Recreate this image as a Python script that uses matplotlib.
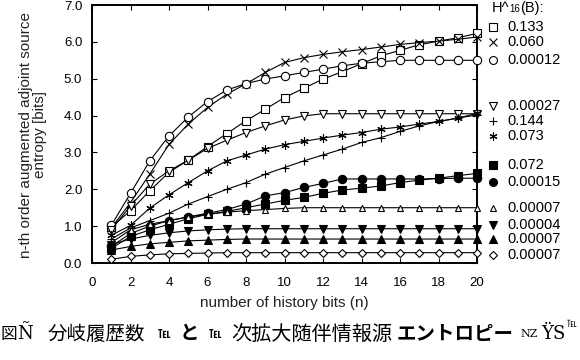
import matplotlib
matplotlib.use("Agg")
import matplotlib.pyplot as plt
from matplotlib.lines import Line2D

n = list(range(1, 21))

labels = ["0.133", "0.060", "0.00012", "0.00027", "0.144", "0.073",
          "0.072", "0.00015", "0.00007", "0.00004", "0.00007", "0.00007"]

s_square = [0.97, 1.42, 1.96, 2.46, 2.79, 3.16, 3.51, 3.86, 4.17, 4.49,
            4.74, 4.99, 5.19, 5.41, 5.62, 5.77, 5.92, 6.02, 6.11, 6.23]
s_x = [0.95, 1.64, 2.41, 3.22, 3.77, 4.22, 4.58, 4.86, 5.17, 5.44,
       5.57, 5.66, 5.73, 5.79, 5.86, 5.93, 5.98, 6.02, 6.07, 6.13]
s_circle = [1.02, 1.89, 2.77, 3.45, 3.96, 4.38, 4.69, 4.87, 4.99, 5.08,
            5.17, 5.26, 5.35, 5.42, 5.46, 5.50, 5.50, 5.50, 5.50, 5.50]
s_tdown = [0.90, 1.55, 2.14, 2.50, 2.79, 3.11, 3.33, 3.54, 3.72, 3.88,
           3.99, 4.05, 4.05, 4.05, 4.05, 4.05, 4.05, 4.05, 4.05, 4.05]
s_plus = [0.65, 0.95, 1.15, 1.35, 1.60, 1.80, 2.00, 2.18, 2.41, 2.59,
          2.77, 2.93, 3.09, 3.27, 3.40, 3.57, 3.72, 3.84, 3.93, 4.02]
s_star = [0.75, 1.02, 1.49, 1.85, 2.18, 2.50, 2.77, 2.93, 3.09, 3.21,
          3.30, 3.39, 3.47, 3.54, 3.63, 3.69, 3.77, 3.84, 3.93, 4.06]
s_fsquare = [0.40, 0.72, 0.90, 1.05, 1.20, 1.32, 1.40, 1.50, 1.60, 1.70,
             1.78, 1.89, 1.98, 2.03, 2.09, 2.18, 2.25, 2.30, 2.37, 2.43]
s_fcircle = [0.45, 0.80, 1.00, 1.15, 1.25, 1.35, 1.45, 1.60, 1.82, 1.91,
             2.05, 2.16, 2.28, 2.28, 2.28, 2.28, 2.28, 2.29, 2.30, 2.30]
s_tup = [0.55, 0.90, 1.05, 1.15, 1.25, 1.32, 1.38, 1.42, 1.45, 1.48,
         1.50, 1.50, 1.50, 1.50, 1.50, 1.50, 1.50, 1.50, 1.50, 1.50]
s_ftdown = [0.50, 0.65, 0.75, 0.82, 0.87, 0.90, 0.92, 0.93, 0.93, 0.93,
            0.93, 0.93, 0.93, 0.93, 0.93, 0.93, 0.93, 0.93, 0.93, 0.93]
s_ftup = [0.35, 0.45, 0.52, 0.56, 0.60, 0.62, 0.64, 0.65, 0.65, 0.65,
          0.65, 0.65, 0.65, 0.65, 0.65, 0.65, 0.65, 0.65, 0.65, 0.65]
s_diamond = [0.10, 0.18, 0.22, 0.25, 0.26, 0.27, 0.28, 0.28, 0.28, 0.28,
             0.28, 0.28, 0.28, 0.28, 0.28, 0.28, 0.28, 0.28, 0.28, 0.28]

series = [s_square, s_x, s_circle, s_tdown, s_plus, s_star,
          s_fsquare, s_fcircle, s_tup, s_ftdown, s_ftup, s_diamond]
styles = [("s", "white", 6), ("x", "black", 5.5), ("o", "white", 6),
          ("v", "white", 5.5), ("+", "black", 6), ((6, 2, 0), "black", 6),
          ("s", "black", 5.5), ("o", "black", 6), ("^", "white", 5),
          ("v", "black", 5.5), ("^", "black", 5.5), ("D", "white", 3.8)]

xticks = list(range(0, 21, 2))
yticks = [0.0, 1.0, 2.0, 3.0, 4.0, 5.0, 6.0, 7.0]

plt.rcParams['font.family'] = ['Liberation Sans', 'DejaVu Sans']

fig = plt.figure(figsize=(5.8, 3.6), dpi=100)
ax = fig.add_axes([92/580, 1-263/360, (477-92)/580, (263-5)/360])

for ys, (m, fc, ms) in zip(series, styles):
    ax.plot(n, ys, color="black", lw=0.8, marker=m, markersize=ms,
            markerfacecolor=fc, markeredgecolor="black", markeredgewidth=0.8,
            clip_on=False, zorder=3)

ax.set_xlim(0, 20)
ax.set_ylim(0, 7)
ax.set_xticks(xticks)
ax.set_yticks(yticks)
ax.set_yticklabels([f"{v:.1f}" for v in yticks])
ax.tick_params(direction="in", top=True, right=True, length=3.5, width=0.8,
               labelsize=9.5, colors="black")
ax.tick_params(axis="x", pad=10)
ax.tick_params(axis="y", pad=7)
for sp in ax.spines.values():
    sp.set_linewidth(1.4)

# axis labels
fig.text(284/580, 1-303/360, "number of history bits (n)", fontsize=11,
         ha="center", va="center", color="#222222")
fig.text(33/580, 1-135/360, "n-th order augmented adjoint source\nentropy [bits]",
         fontsize=11, rotation=90, ha="center", va="center",
         multialignment="center", linespacing=1.05, color="#222222")

# legend outside to the right
hy = 1 - 8/360
fig.text(492/580, hy, "H^", fontsize=10.5, va="center", ha="left")
fig.text(509/580, hy - 1.5/360, "16", fontsize=7, va="center", ha="left")
fig.text(520/580, hy, "(B):", fontsize=10.5, va="center", ha="left")
leg_y = [26.7, 41.7, 60, 106, 120.7, 136, 165, 181.7, 208.3, 225, 239.3, 255]
for lab, yy, (m, fc, ms) in zip(labels, leg_y, styles):
    fig.add_artist(Line2D([493/580], [1-yy/360], marker=m, markersize=ms*0.95,
                          markerfacecolor=fc, markeredgecolor="black",
                          markeredgewidth=0.8, linestyle="none",
                          transform=fig.transFigure))
    fig.text(507/580, 1-yy/360, lab, fontsize=10.5, va="center", ha="left")

# caption
cjk = ['Noto Sans CJK JP', 'DejaVu Sans']
cy = 1 - 334/360
fig.text(0/580, cy, "図", fontsize=12, family=cjk, va="center", ha="left")
fig.text(17/580, cy, "Ñ", fontsize=13, family=['DejaVu Serif'], va="center", ha="left")
fig.text(48/580, cy, "分岐履歴数", fontsize=14, family=cjk, va="center", ha="left")
fig.text(158/580, cy, "℡", fontsize=9, family=cjk, va="center", ha="left", weight="bold")
fig.text(180/580, cy, "と", fontsize=14, family=cjk, va="center", ha="left", weight="bold")
fig.text(209/580, cy, "℡", fontsize=9, family=cjk, va="center", ha="left", weight="bold")
fig.text(231/580, cy, "次拡大随伴情報源", fontsize=14.5, family=cjk, va="center", ha="left")
fig.text(397/580, cy, "エントロピー", fontsize=14, family=cjk, va="center", ha="left", weight="bold")
fig.text(520/580, cy, "NZ", fontsize=8, family=['DejaVu Serif'], va="center", ha="left")
fig.text(541/580, cy, "ŸS", fontsize=13, family=['DejaVu Serif'], va="center", ha="left")
fig.text(567/580, cy + 10/360, "℡", fontsize=7, family=cjk, va="center", ha="left")

fig.savefig("out.png", dpi=100)
